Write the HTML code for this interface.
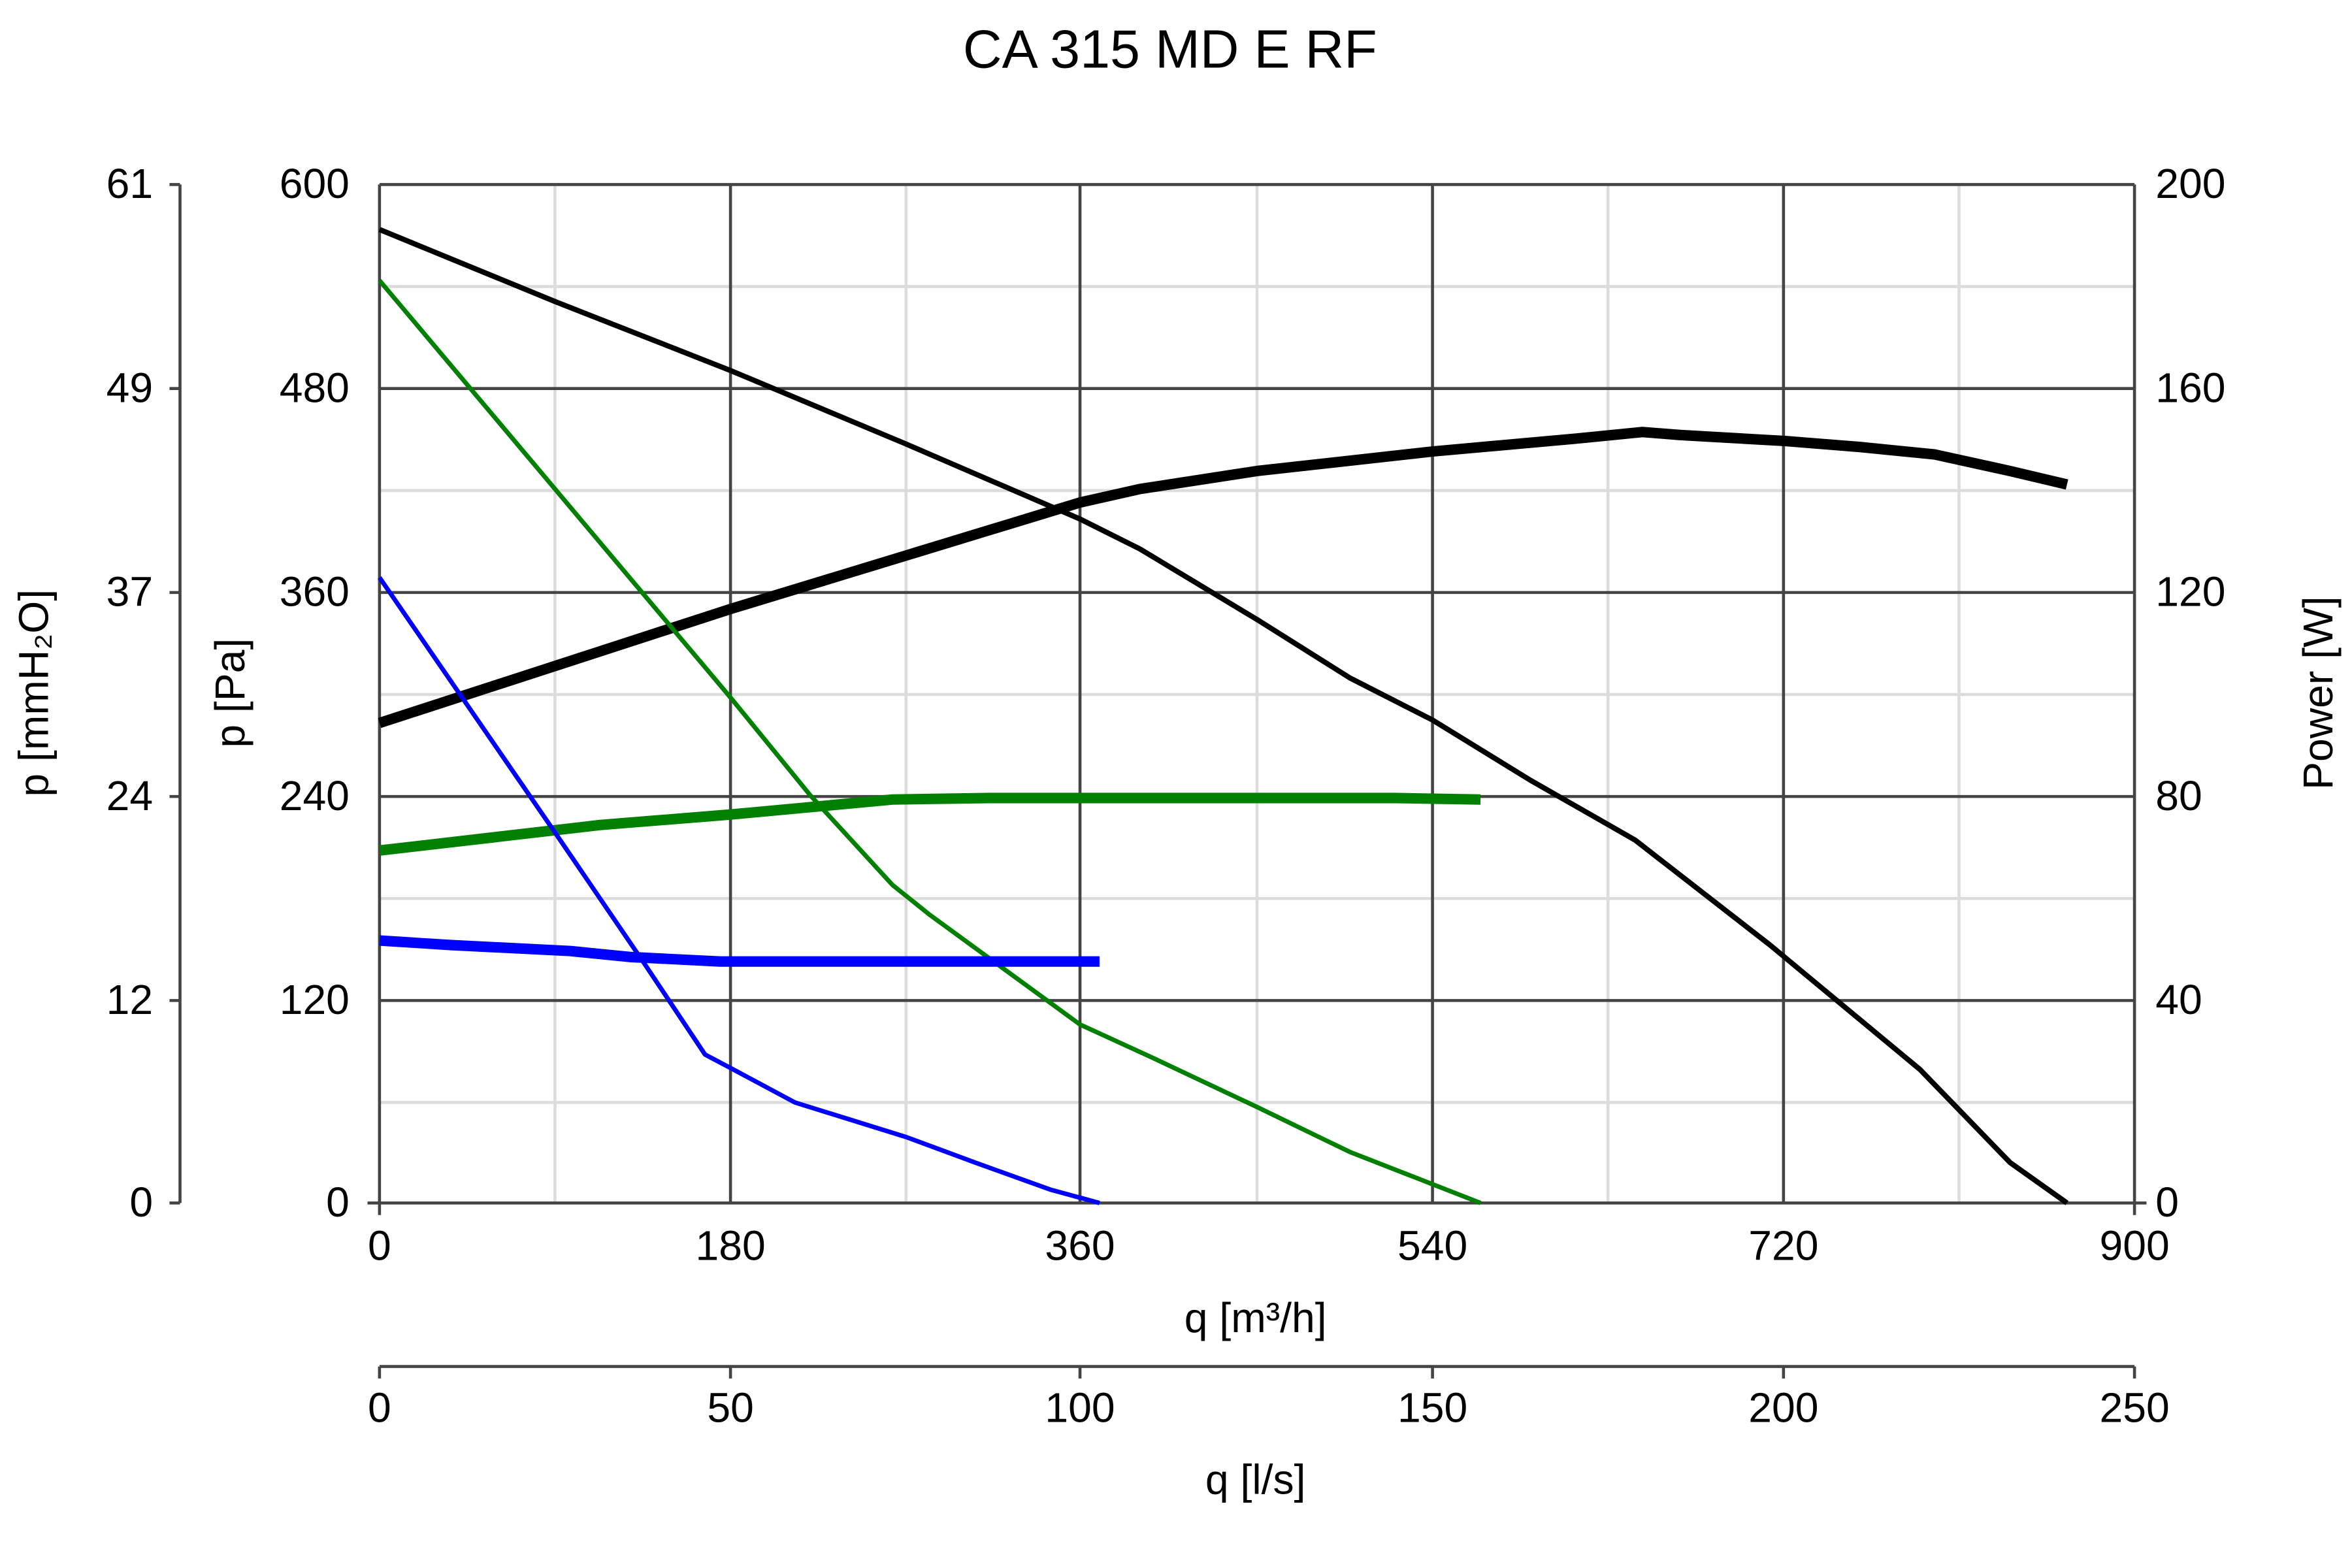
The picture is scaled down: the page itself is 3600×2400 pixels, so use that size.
<!DOCTYPE html>
<html><head><meta charset="utf-8"><style>html,body{margin:0;padding:0;background:#fff}svg{display:block}</style></head>
<body>
<svg width="3600" height="2400" viewBox="0 0 1568 1045.33" preserveAspectRatio="none" xmlns="http://www.w3.org/2000/svg" font-family="Liberation Sans, sans-serif" fill="#000">
<rect width="1568" height="1046" fill="#fff"/>
<text x="780" y="45" font-size="36" text-anchor="middle">CA 315 MD E RF</text>
<g stroke="#dcdcdc" stroke-width="2">
<line x1="370" y1="123" x2="370" y2="802"/><line x1="604" y1="123" x2="604" y2="802"/><line x1="838" y1="123" x2="838" y2="802"/><line x1="1072" y1="123" x2="1072" y2="802"/><line x1="1306" y1="123" x2="1306" y2="802"/>
<line x1="253" y1="191" x2="1423" y2="191"/><line x1="253" y1="327" x2="1423" y2="327"/><line x1="253" y1="463" x2="1423" y2="463"/><line x1="253" y1="599" x2="1423" y2="599"/><line x1="253" y1="735" x2="1423" y2="735"/>
</g>
<g stroke="#444" stroke-width="2">
<line x1="487" y1="123" x2="487" y2="802"/><line x1="720" y1="123" x2="720" y2="802"/><line x1="955" y1="123" x2="955" y2="802"/><line x1="1189" y1="123" x2="1189" y2="802"/>
<line x1="253" y1="123" x2="1423" y2="123"/><line x1="253" y1="259" x2="1423" y2="259"/><line x1="253" y1="395" x2="1423" y2="395"/><line x1="253" y1="531" x2="1423" y2="531"/><line x1="253" y1="667" x2="1423" y2="667"/>
<line x1="253" y1="123" x2="253" y2="810"/><line x1="1423" y1="123" x2="1423" y2="810"/><line x1="245" y1="802" x2="1431" y2="802"/>
<line x1="120" y1="123" x2="120" y2="802"/>
<line x1="113" y1="123" x2="120" y2="123"/><line x1="113" y1="259" x2="120" y2="259"/><line x1="113" y1="395" x2="120" y2="395"/><line x1="113" y1="531" x2="120" y2="531"/><line x1="113" y1="667" x2="120" y2="667"/><line x1="113" y1="802" x2="120" y2="802"/>
<line x1="253" y1="911" x2="1423" y2="911"/>
<line x1="253" y1="911" x2="253" y2="919"/><line x1="487" y1="911" x2="487" y2="919"/><line x1="720" y1="911" x2="720" y2="919"/><line x1="955" y1="911" x2="955" y2="919"/><line x1="1189" y1="911" x2="1189" y2="919"/><line x1="1423" y1="911" x2="1423" y2="919"/>
</g>
<g font-size="28">
<g text-anchor="end"><text x="233" y="132">600</text><text x="233" y="268">480</text><text x="233" y="404">360</text><text x="233" y="540">240</text><text x="233" y="676">120</text><text x="233" y="811">0</text>
<text x="102" y="132">61</text><text x="102" y="268">49</text><text x="102" y="404">37</text><text x="102" y="540">24</text><text x="102" y="676">12</text><text x="102" y="811">0</text></g>
<g text-anchor="start"><text x="1437" y="132">200</text><text x="1437" y="268">160</text><text x="1437" y="404">120</text><text x="1437" y="540">80</text><text x="1437" y="676">40</text><text x="1437" y="811">0</text></g>
<g text-anchor="middle"><text x="253" y="840">0</text><text x="487" y="840">180</text><text x="720" y="840">360</text><text x="955" y="840">540</text><text x="1189" y="840">720</text><text x="1423" y="840">900</text>
<text x="837" y="888">q [m³/h]</text>
<text x="253" y="948">0</text><text x="487" y="948">50</text><text x="720" y="948">100</text><text x="955" y="948">150</text><text x="1189" y="948">200</text><text x="1423" y="948">250</text>
<text x="837" y="996">q [l/s]</text>
<text transform="translate(163,462) rotate(-90)">p [Pa]</text>
<text transform="translate(32,462) rotate(-90)">p [mmH₂O]</text>
<text transform="translate(1555,462) rotate(-90)">Power [W]</text></g>
</g>
<g fill="none" stroke-linejoin="round" stroke-linecap="butt">
<polyline stroke="#000" stroke-width="3.5" points="253,153 370,201 487,247 604,296 720,346 760,366 838,413 900,452 955,480 1020,520 1090,560 1180,630 1280,713 1340,775 1378,802"/>
<polyline stroke="#000" stroke-width="7" points="253,482 487,406 720,335 760,326 838,314 955,301 1055,292 1095,288 1120,290 1190,294 1240,298 1290,303 1340,314 1378,323"/>
<polyline stroke="#008000" stroke-width="3" points="253,187 487,465 540,530 595,590 620,610 720,683 768,705 838,738 900,768 987,802"/>
<polyline stroke="#008000" stroke-width="7" points="253,567 400,550 487,543 595,533 660,532 930,532 987,533"/>
<polyline stroke="#0000ff" stroke-width="3" points="253,385 370,555 430,643 470,703 487,712 530,735 604,758 650,775 700,793 733,802"/>
<polyline stroke="#0000ff" stroke-width="7" points="253,627 300,630 380,634 420,638 480,641 733,641"/>
</g>
</svg>
</body></html>
